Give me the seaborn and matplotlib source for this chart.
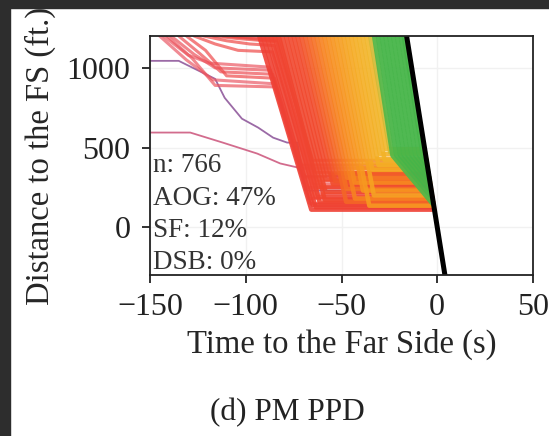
import matplotlib.pyplot as plt
import numpy as np
import pandas as pd
import seaborn as sns
from matplotlib.colors import LinearSegmentedColormap
from matplotlib.patches import Rectangle

# queued vehicles (s, ft): time at the 1200 ft line, time stopped, queue position, release time
q_enter = [-93, -91, -89, -87, -85, -83, -81, -79, -77, -75, -73, -71, -69, -67, -65,
           -63, -61, -59, -57, -55, -53, -51, -49, -47, -45, -43, -41, -39, -37, -35]
q_stop = [-65.8, -65.1, -63.5, -63.6, -61.4, -62.0, -58.7, -58.3, -58.4, -57.4, -54.5, -53.3, -52.6, -47.6, -47.4,
          -47.0, -43.0, -43.1, -42.9, -38.8, -35.5, -38.1, -33.1, -33.9, -33.2, -30.7, -30.0, -27.5, -26.7, -24.6]
q_dist = [110, 140, 125, 190, 155, 250, 170, 220, 300, 330, 270, 290, 340, 160, 240,
          310, 180, 280, 370, 230, 135, 400, 200, 360, 430, 390, 460, 420, 490, 470]
q_go = [-1.5, -1.9, -1.7, -2.5, -2.1, -3.3, -2.3, -2.9, -4.0, -4.4, -3.6, -3.9, -4.5, -2.1, -3.2,
        -4.1, -2.4, -3.7, -4.9, -3.1, -1.8, -5.3, -2.7, -4.8, -5.7, -5.2, -6.1, -5.6, -6.5, -6.3]

# vehicles slowed far upstream before joining the queue
slow_t = [[-143, -130, -119, -88, -66.6, -2.0],
          [-139, -127, -116, -87, -67, -2.4],
          [-135, -124, -113, -86, -70, -4.2],
          [-131, -121, -110, -85, -71.4, -5.2],
          [-127, -116, -104, -86, -65, -3.6],
          [-122, -110, -98, -85, -62, -2.8],
          [-117, -105, -95, -84, -65, -5.6],
          [-145, -131, -117, -85, -71.8, -4.9],
          [-141, -128, -116, -84, -68.2, -3.3],
          [-112, -102, -93, -83, -63, -3.9],
          [-107, -99, -91, -82, -64, -4.6]]
slow_d = [[1200, 1080, 1030, 1005, 150, 150],
          [1200, 1085, 1000, 985, 180, 180],
          [1200, 1090, 975, 960, 315, 315],
          [1200, 1110, 950, 935, 390, 390],
          [1200, 1150, 1110, 1100, 270, 270],
          [1200, 1170, 1150, 1140, 210, 210],
          [1200, 1185, 1175, 1165, 420, 420],
          [1200, 1050, 925, 900, 370, 370],
          [1200, 1060, 890, 880, 250, 250],
          [1200, 1190, 1180, 1170, 290, 290],
          [1200, 1195, 1190, 1185, 345, 345]]

# two vehicles that entered before the window
long_t = [[-200, -160, -135, -116, -111, -102, -93.5, -85.7, -78.4, -73, -69, -3.0],
          [-185, -160, -129, -112, -94, -82, -73, -69, -4.3]]
long_d = [[1200, 1044, 1044, 931, 812, 681, 625, 562, 531, 531, 230, 230],
          [1200, 594, 594, 531, 462, 400, 375, 320, 320]]

# arrivals on green: time at 1200 ft, point where they slow, point where they meet the discharge line
free_enter = [-33, -31, -29, -27, -25, -23, -21, -19, -17.5]
free_slow_t = [-23.4, -21.4, -19.4, -17.4, -15.4, -13.4, -11.4, -9.4, -7.6]
free_slow_d = [450, 450, 450, 450, 450, 450, 450, 450, 450]
free_meet_t = [-2.0, -2.4, -2.9, -3.4, -3.8, -4.2, -4.6, -5.0, -5.6]
free_meet_d = [140, 180, 215, 255, 285, 315, 345, 375, 420]

# discharge line through the far side
exit_t = [-16, 4]
exit_d = [1200, -300]

stats = ["n: 766", "AOG: 47%", "SF: 12%", "DSB: 0%"]

rows = []
veh = 0
for e, s, q, g in zip(q_enter, q_stop, q_dist, q_go):
    for t, d in zip([e, s, g], [1200, q, q]):
        rows.append(("queue", veh, t, d, e))
    veh += 1
for ts, ds in zip(slow_t, slow_d):
    for t, d in zip(ts, ds):
        rows.append(("slow", veh, t, d, ts[0]))
    veh += 1
for ts, ds in zip(long_t, long_d):
    for t, d in zip(ts, ds):
        rows.append(("long", veh, t, d, ts[0]))
    veh += 1
for e, st, sd, mt, md in zip(free_enter, free_slow_t, free_slow_d, free_meet_t, free_meet_d):
    for t, d in zip([e, st, mt], [1200, sd, md]):
        rows.append(("free", veh, t, d, e))
    veh += 1
df = pd.DataFrame(rows, columns=["kind", "veh", "t", "d", "enter"])
# colour by arrival time at the top of the window (earlier = longer delay)
df["arrival"] = df["enter"].clip(upper=-30)

cmap = LinearSegmentedColormap.from_list("arrival", [
    (0.0, "#905a9c"), (0.088, "#cf5c80"), (0.253, "#e9667e"), (0.41, "#ee4a4a"),
    (0.63, "#ef4034"), (0.747, "#f14a2c"), (0.79, "#f56a25"), (0.824, "#f7861f"),
    (0.865, "#f7991f"), (0.912, "#f5ab22"), (0.971, "#f0b82a"), (0.979, "#5cb848"),
    (1.0, "#46b549")])

sns.set_theme(style="whitegrid", rc={
    "axes.edgecolor": "#222222", "axes.linewidth": 1.3, "grid.color": "#f1f1f1",
    "xtick.bottom": True, "ytick.left": True, "xtick.major.size": 6, "ytick.major.size": 6,
    "xtick.major.width": 1.3, "ytick.major.width": 1.3, "xtick.color": "#222222",
    "ytick.color": "#222222"})
plt.rcParams["font.family"] = ["Liberation Serif", "DejaVu Serif"]

fig = plt.figure(figsize=(5.49, 4.36), dpi=100)
ax = fig.add_axes([150 / 549, 1 - 275 / 436, 383 / 549, 239 / 436])

styles = {"long": (1.3, 0.9), "slow": (2.2, 0.7), "queue": (3.2, 0.9), "free": (3.2, 0.95)}
for kind in ["long", "slow", "queue", "free"]:
    lw, a = styles[kind]
    sns.lineplot(data=df[df["kind"] == kind], x="t", y="d", units="veh", estimator=None,
                 sort=False, hue="arrival", palette=cmap, hue_norm=(-200, -30), lw=lw, alpha=a,
                 legend=False, ax=ax)

sns.lineplot(x=exit_t, y=exit_d, color="black", lw=3.6, ax=ax)

ax.set_xlim(-150, 50)
ax.set_ylim(-300, 1200)
ax.set_xticks([-150, -100, -50, 0, 50])
ax.set_yticks([0, 500, 1000])
ax.tick_params(labelsize=23)
ax.tick_params(axis="x", pad=7)
ax.tick_params(axis="y", pad=8)
ax.set_xlabel("Time to the Far Side (s)", fontsize=23.5, labelpad=5)
ax.set_ylabel("Distance to the FS (ft.)", fontsize=23.5, labelpad=8)
for s in ax.spines.values():
    s.set_visible(True)

ax.text(0.008, 0.0, "\n".join(stats), transform=ax.transAxes, ha="left", va="bottom",
        fontsize=19.5, color="#333333", linespacing=1.38)

fig.text(0.523, 0.053, "(d) PM PPD", ha="center", va="center", fontsize=22.5, color="#222222")

fig.patches.append(Rectangle((0, 1 - 8 / 436), 1, 8 / 436, transform=fig.transFigure,
                             color="#2d2d2d", zorder=10))
fig.patches.append(Rectangle((0, 0), 10 / 549, 1, transform=fig.transFigure,
                             color="#2d2d2d", zorder=10))

fig.savefig("out.png", dpi=100)
